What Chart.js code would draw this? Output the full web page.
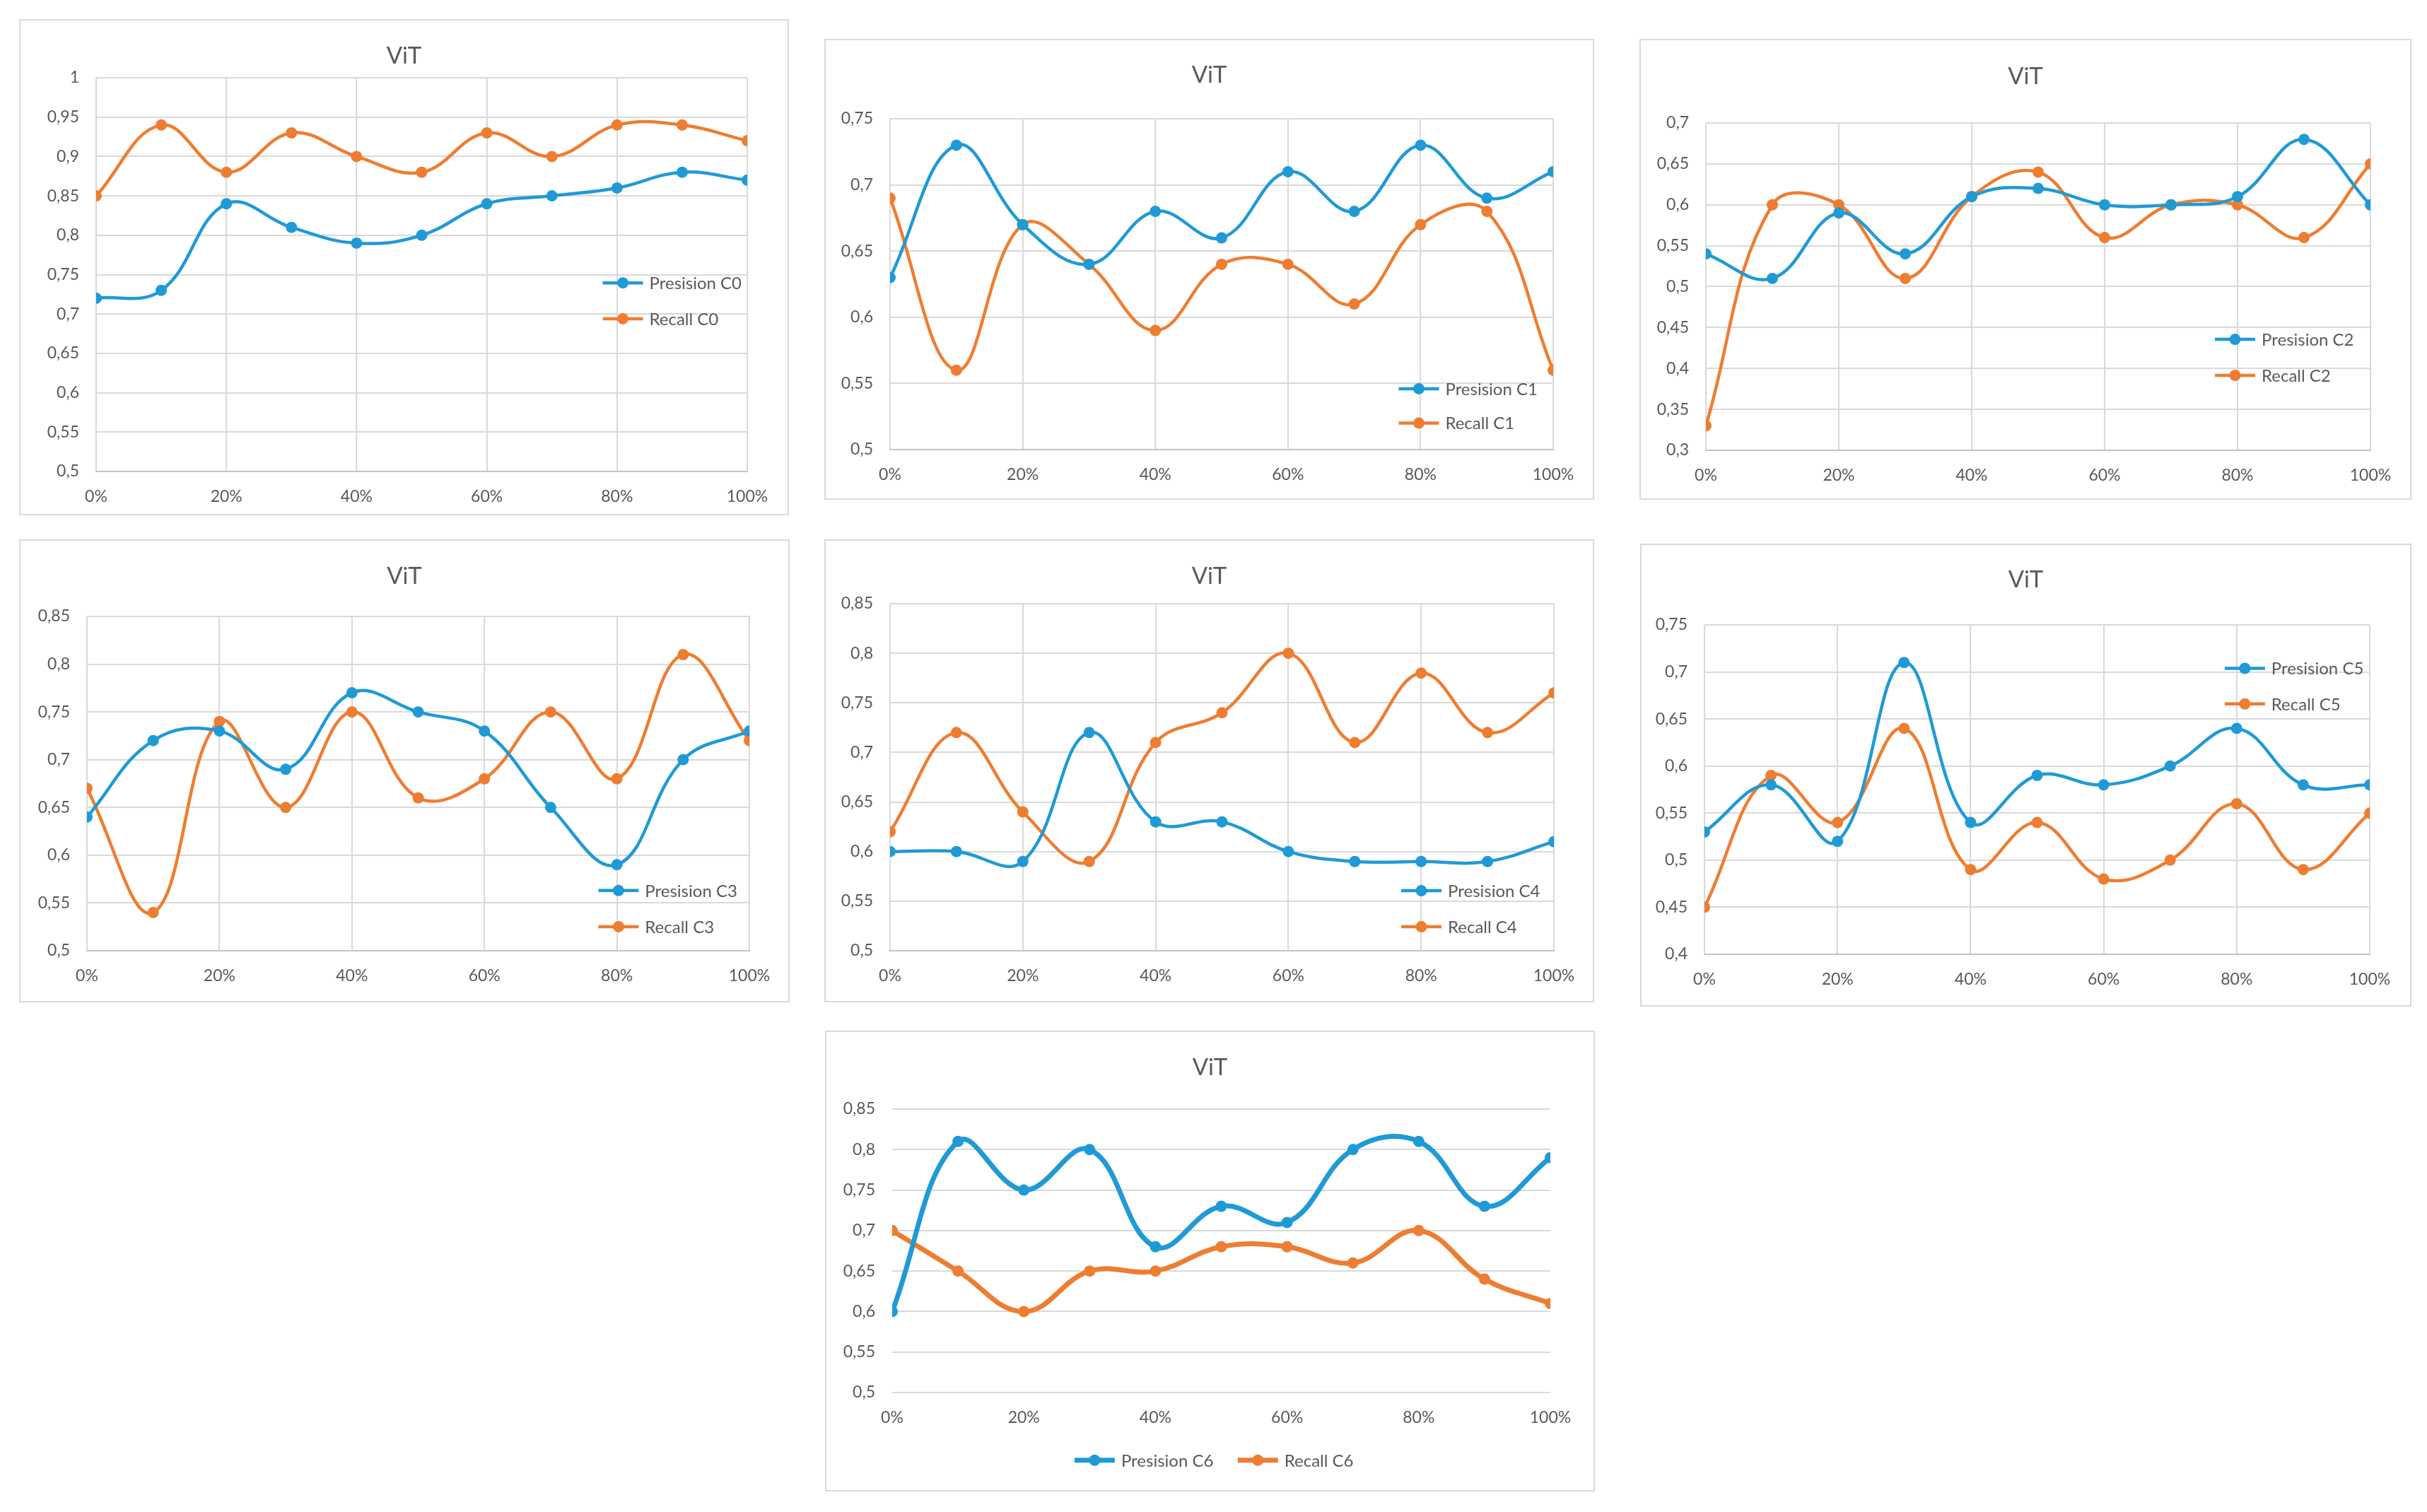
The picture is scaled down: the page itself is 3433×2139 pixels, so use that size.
<!DOCTYPE html>
<html><head><meta charset="utf-8">
<script src="https://cdn.jsdelivr.net/npm/chart.js@4.4.1/dist/chart.umd.min.js"></script>
<style>
html,body{margin:0;padding:0;background:#fff;width:3433px;height:2139px;overflow:hidden}
.panel{position:absolute;box-sizing:border-box;border:2px solid #d9d9d9;background:#fff}
.panel canvas{position:absolute;left:0;top:0}
</style></head><body>
<script>
// ---------- data ----------
const xPercent = [0,10,20,30,40,50,60,70,80,90,100];
const xTickValues = [0,20,40,60,80,100];
const xTickLabels = ['0%','20%','40%','60%','80%','100%'];
const chartTitle = 'ViT';

const precisionC0 = [0.72,0.73,0.84,0.81,0.79,0.80,0.84,0.85,0.86,0.88,0.87];
const recallC0    = [0.85,0.94,0.88,0.93,0.90,0.88,0.93,0.90,0.94,0.94,0.92];
const precisionC1 = [0.63,0.73,0.67,0.64,0.68,0.66,0.71,0.68,0.73,0.69,0.71];
const recallC1    = [0.69,0.56,0.67,0.64,0.59,0.64,0.64,0.61,0.67,0.68,0.56];
const precisionC2 = [0.54,0.51,0.59,0.54,0.61,0.62,0.60,0.60,0.61,0.68,0.60];
const recallC2    = [0.33,0.60,0.60,0.51,0.61,0.64,0.56,0.60,0.60,0.56,0.65];
const precisionC3 = [0.64,0.72,0.73,0.69,0.77,0.75,0.73,0.65,0.59,0.70,0.73];
const recallC3    = [0.67,0.54,0.74,0.65,0.75,0.66,0.68,0.75,0.68,0.81,0.72];
const precisionC4 = [0.60,0.60,0.59,0.72,0.63,0.63,0.60,0.59,0.59,0.59,0.61];
const recallC4    = [0.62,0.72,0.64,0.59,0.71,0.74,0.80,0.71,0.78,0.72,0.76];
const precisionC5 = [0.53,0.58,0.52,0.71,0.54,0.59,0.58,0.60,0.64,0.58,0.58];
const recallC5    = [0.45,0.59,0.54,0.64,0.49,0.54,0.48,0.50,0.56,0.49,0.55];
const precisionC6 = [0.60,0.81,0.75,0.80,0.68,0.73,0.71,0.80,0.81,0.73,0.79];
const recallC6    = [0.70,0.65,0.60,0.65,0.65,0.68,0.68,0.66,0.70,0.64,0.61];

const yRangeC0 = [0.5, 1.0];
const yRangeC1 = [0.5, 0.75];
const yRangeC2 = [0.3, 0.7];
const yRangeC3 = [0.5, 0.85];
const yRangeC4 = [0.5, 0.85];
const yRangeC5 = [0.4, 0.75];
const yRangeC6 = [0.5, 0.85];
const yStep = 0.05;

// ---------- styling / layout ----------
const BLUE = '#1F9AD6', ORANGE = '#EE7D31', TEXT = '#595959';
const FONT = 'Lato, "Open Sans", "Liberation Sans", sans-serif';

const panels = [
  {name:'C0', p:precisionC0, r:recallC0, y:yRangeC0, box:[27,27,1116,729],   plot:[136,110,1057,667],   title:79,   leg:[[0.778,0.521],[0.778,0.612]], thick:false},
  {name:'C1', p:precisionC1, r:recallC1, y:yRangeC1, box:[1166,55,2255,707], plot:[1259,168,2197,636],  title:106,  leg:[[0.767,0.816],[0.767,0.920]], thick:false},
  {name:'C2', p:precisionC2, r:recallC2, y:yRangeC2, box:[2319,55,3411,707], plot:[2413,174,3353,637],  title:108,  leg:[[0.766,0.661],[0.766,0.771]], thick:false},
  {name:'C3', p:precisionC3, r:recallC3, y:yRangeC3, box:[27,763,1117,1418], plot:[123,872,1060,1345],  title:815,  leg:[[0.772,0.820],[0.772,0.928]], thick:false},
  {name:'C4', p:precisionC4, r:recallC4, y:yRangeC4, box:[1166,763,2255,1418],plot:[1259,854,2198,1345],title:815,  leg:[[0.770,0.827],[0.770,0.931]], thick:false},
  {name:'C5', p:precisionC5, r:recallC5, y:yRangeC5, box:[2320,769,3411,1424],plot:[2411,884,3352,1350],title:820,  leg:[[0.782,0.132],[0.782,0.240]], thick:false},
  {name:'C6', p:precisionC6, r:recallC6, y:yRangeC6, box:[1167,1458,2256,2110],plot:[1262,1569,2193,1970],title:1510,leg:[[0.277,1.239],[0.525,1.239]], thick:true},
];

const legendPlugin = {
  id: 'innerLegend',
  afterDraw(chart, args, opts) {
    const ctx = chart.ctx, a = chart.chartArea;
    chart.data.datasets.forEach((ds, i) => {
      const it = opts.items[i];
      const x0 = a.left + it[0] * (a.right - a.left);
      const y = a.top + it[1] * (a.bottom - a.top);
      ctx.save();
      ctx.strokeStyle = ds.borderColor;
      ctx.lineWidth = ds.borderWidth;
      ctx.beginPath(); ctx.moveTo(x0, y); ctx.lineTo(x0 + opts.lineLen, y); ctx.stroke();
      ctx.fillStyle = ds.borderColor;
      ctx.beginPath(); ctx.arc(x0 + opts.lineLen / 2, y, opts.r, 0, Math.PI * 2); ctx.fill();
      ctx.fillStyle = TEXT;
      ctx.font = '24px ' + FONT;
      ctx.textAlign = 'left'; ctx.textBaseline = 'middle';
      ctx.fillText(ds.label, x0 + opts.lineLen + 9, y + 1);
      ctx.restore();
    });
  }
};

function fmtY(v) { return String(parseFloat(v.toFixed(2))).replace('.', ','); }

panels.forEach(pn => {
  const [bl, bt, br, bb] = pn.box;
  const [L, T, R, B] = pn.plot;
  const div = document.createElement('div');
  div.className = 'panel';
  div.style.left = bl + 'px'; div.style.top = bt + 'px';
  div.style.width = (br - bl) + 'px'; div.style.height = (bb - bt) + 'px';
  document.body.appendChild(div);
  const W = br - bl - 4, H = bb - bt - 4;
  const cv = document.createElement('canvas');
  cv.width = W; cv.height = H;
  cv.style.width = W + 'px'; cv.style.height = H + 'px';
  div.appendChild(cv);

  const relL = L - bl - 2, relT = T - bt - 2, relR = (br - 2) - R, relB = (bb - 2) - B;
  const titleC = pn.title - bt - 2;
  const titleSize = 33, titleH = titleSize * 1.2;
  const padT = titleC - titleH / 2;
  const titleBottom = relT - padT - titleH;
  const padSide = 4;
  const yW = relL - padSide;      // left axis box (labels)
  const yRW = relR - padSide;     // empty right box, keeps the title centred on the panel
  const xH = relB - 8, padB = 8;

  const lw = pn.thick ? 7 : 4.5;
  const mk = (label, data, color) => ({
    label, data: xPercent.map((x, i) => ({x, y: data[i]})),
    borderColor: color, backgroundColor: color,
    pointBackgroundColor: color, pointBorderColor: color,
    borderWidth: lw, pointRadius: 8, pointBorderWidth: 0,
    tension: 0.4, fill: false, yAxisID: 'y'
  });

  new Chart(cv, {
    type: 'line',
    data: { datasets: [ mk('Presision ' + pn.name, pn.p, BLUE), mk('Recall ' + pn.name, pn.r, ORANGE) ] },
    options: {
      responsive: false, animation: false, devicePixelRatio: 1,
      layout: { padding: { left: padSide, right: padSide, top: padT, bottom: padB } },
      plugins: {
        legend: { display: false },
        tooltip: { enabled: false },
        title: { display: true, text: chartTitle, color: TEXT,
                 font: { size: titleSize, family: FONT, weight: 'normal' },
                 padding: { top: 0, bottom: titleBottom } },
        innerLegend: { items: pn.leg, lineLen: 57, r: 8 }
      },
      scales: {
        x: {
          type: 'linear', min: 0, max: 100,
          afterBuildTicks: s => { s.ticks = xTickValues.map(v => ({value: v})); },
          afterFit: s => { s.height = xH; },
          ticks: { callback: v => xTickLabels[xTickValues.indexOf(v)], color: TEXT,
                   font: { size: 23, family: FONT }, padding: 22, maxRotation: 0, autoSkip: false },
          grid: { display: !pn.thick, color: '#d9d9d9', lineWidth: 2, drawTicks: false },
          border: { display: !pn.thick, color: '#c4c4c4', width: 2 }
        },
        y: {
          position: 'left', min: pn.y[0], max: pn.y[1],
          afterFit: s => { s.width = yW; },
          ticks: { stepSize: yStep, callback: v => fmtY(v), color: TEXT,
                   font: { size: 23, family: FONT }, padding: 24 },
          grid: { color: '#d9d9d9', lineWidth: 2, drawTicks: false },
          border: { display: false }
        },
        yRight: {
          position: 'right', min: 0, max: 1,
          afterFit: s => { s.width = yRW; },
          ticks: { display: false },
          grid: { display: false, drawTicks: false },
          border: { display: false }
        }
      }
    },
    plugins: [legendPlugin]
  });
});
</script>
</body></html>
